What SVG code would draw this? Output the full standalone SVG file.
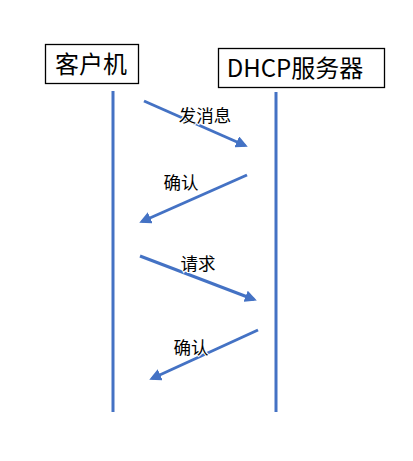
<svg xmlns="http://www.w3.org/2000/svg" width="413" height="461" viewBox="0 0 413 461">
<style>
.box{fill:#fff;stroke:#000;stroke-width:1.3}
.life{stroke:#4472C4;stroke-width:3}
.msg{stroke:#4472C4;stroke-width:3;marker-end:url(#ah)}
.t{font-family:"Noto Sans CJK SC","Liberation Sans",sans-serif;fill:#000}
.lbl{font-size:17.5px;paint-order:stroke;stroke:#fff;stroke-width:2}
.ttl{font-size:24px}
</style>
<defs>
<marker id="ah" markerWidth="4" markerHeight="4" refX="3" refY="2" orient="auto" markerUnits="strokeWidth">
<path d="M0,0 L4,2 L0,4 Z" fill="#4472C4"/>
</marker>
</defs>
<rect width="413" height="461" fill="#fff"/>
<g id="client">
<rect class="box" x="45.5" y="44.5" width="93" height="39"/>
<text class="t ttl" x="91" y="73" text-anchor="middle">客户机</text>
</g>
<g id="server">
<rect class="box" x="218.5" y="48.5" width="166" height="39"/>
<text class="t ttl" x="295" y="77" text-anchor="middle">DHCP服务器</text>
</g>
<g id="connectors">
<line class="life" x1="113" y1="91" x2="113" y2="412"/>
<line class="life" x1="276" y1="92" x2="276" y2="412"/>
<line class="msg" x1="144" y1="101" x2="245" y2="145.5"/>
<line class="msg" x1="247" y1="175" x2="142" y2="221.5"/>
<line class="msg" x1="140" y1="256" x2="254" y2="299.5"/>
<line class="msg" x1="258" y1="330" x2="152" y2="378.5"/>
</g>
<g id="labels">
<text class="t lbl" x="205" y="122" text-anchor="middle">发消息</text>
<text class="t lbl" x="181" y="189" text-anchor="middle">确认</text>
<text class="t lbl" x="198" y="270" text-anchor="middle">请求</text>
<text class="t lbl" x="191" y="354" text-anchor="middle">确认</text>
</g>
</svg>
